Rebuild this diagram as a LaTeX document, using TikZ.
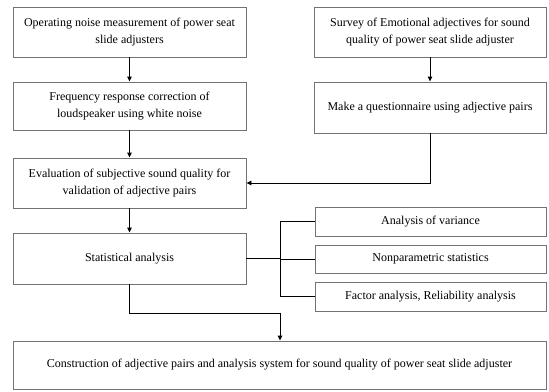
\documentclass[tikz,border=0pt]{standalone}
\usepackage{fontspec}
\setmainfont{Liberation Serif}
\usetikzlibrary{arrows.meta}
\begin{document}
\begin{tikzpicture}[x=1pt,y=-1pt,
  box/.style={draw=black!55,line width=0.9pt,fill=white,inner sep=0pt,align=center,
    font=\fontsize{12}{17}\selectfont},
  conn/.style={draw=black,line width=0.9pt},
  arr/.style={conn,-{Triangle[length=5pt,width=4.5pt]}}]
\useasboundingbox (0,0) rectangle (549,391);
\node[box,minimum width=233pt,minimum height=50pt] (b1) at (129.5,32) {Operating noise measurement of power seat\\slide adjusters};
\node[box,minimum width=232pt,minimum height=50pt] (b2) at (430,32) {Survey of Emotional adjectives for sound\\quality of power seat slide adjuster};
\node[box,minimum width=233pt,minimum height=48pt] (b3) at (129.5,106) {Frequency response correction of\\loudspeaker using white noise};
\node[box,minimum width=232pt,minimum height=51pt] (b4) at (430,107.5) {Make a questionnaire using adjective pairs};
\node[box,minimum width=233pt,minimum height=50pt] (b5) at (129.5,183) {Evaluation of subjective sound quality for\\validation of adjective pairs};
\node[box,minimum width=233pt,minimum height=51pt] (b6) at (129.5,258.5) {Statistical analysis};
\node[box,minimum width=231pt,minimum height=29pt] (s1) at (430.5,221.5) {Analysis of variance};
\node[box,minimum width=231pt,minimum height=28pt] (s2) at (430.5,259) {Nonparametric statistics};
\node[box,minimum width=231pt,minimum height=29pt] (s3) at (430.5,296.5) {Factor analysis, Reliability analysis};
\node[box,minimum width=533pt,minimum height=48pt] (b7) at (279.5,365) {Construction of adjective pairs and analysis system for sound quality of power seat slide adjuster};
\coordinate (j) at (280,258.5);
\coordinate (k) at (280,313);
\draw[arr] (b1.south) -- (b3.north);
\draw[arr] (b2.south) -- (b4.north);
\draw[arr] (b3.south) -- (b5.north);
\draw[arr] (b4.south) -- (b4.south |- b5.east) -- (b5.east);
\draw[arr] (b5.south) -- (b6.north);
\draw[conn] (b6.east) -- (j);
\draw[conn] (j |- s1.west) -- (j |- s3.west);
\draw[conn] (j |- s1.west) -- (s1.west);
\draw[conn] (j |- s2.west) -- (s2.west);
\draw[conn] (j |- s3.west) -- (s3.west);
\draw[arr] (b6.south) |- (k) -- (k |- b7.north);
\end{tikzpicture}
\end{document}
